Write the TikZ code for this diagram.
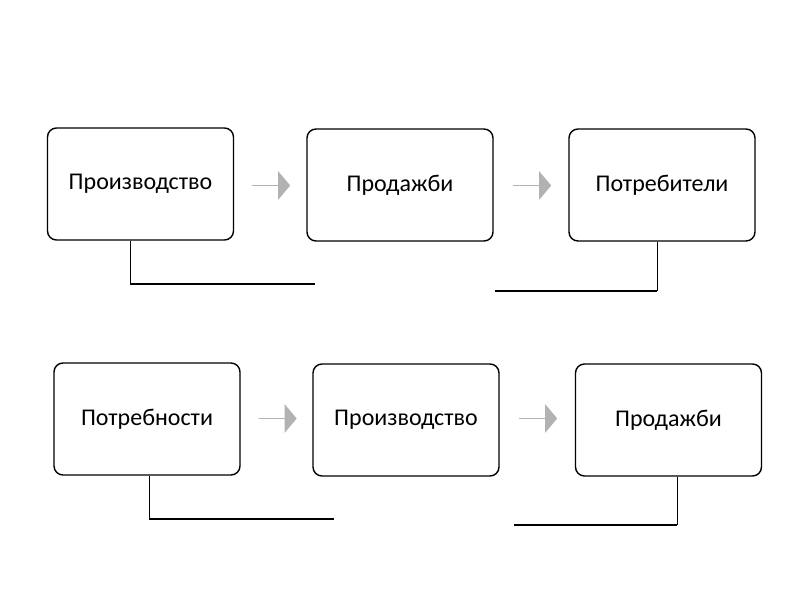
\documentclass[tikz,border=0pt]{standalone}
\usepackage{fontspec}
\setmainfont{Carlito}
\usetikzlibrary{shapes.arrows}
\begin{document}
\begin{tikzpicture}[x=1pt,y=-1pt]
    \tikzstyle{stage}=[draw=black,line width=1.4pt,rounded corners=9pt,minimum width=186pt,minimum height=112pt,font=\fontsize{24}{28}\selectfont]
    \tikzstyle{flow}=[single arrow,fill=black!30,minimum height=38pt,minimum width=29pt,single arrow head extend=6.5pt,shape border rotate=0,single arrow tip angle=100,inner sep=0pt]
    \tikzstyle{link}=[draw=black,line width=1pt]
    \tikzstyle{base}=[draw=black,line width=2.4pt]

    \useasboundingbox (0,0) rectangle (792,594);

    \node[stage] (prod1) at (140.5,184) {Производство};
    \node[stage] (sale1) at (400,185) {Продажби};
    \node[stage] (cons1) at (662,185) {Потребители};
    \node[stage] (need2) at (147,419) {Потребности};
    \node[stage] (prod2) at (406,420) {Производство};
    \node[stage] (sale2) at (668.5,420) {Продажби};

    \node[flow] (a1) at (271,185.5) {};
    \node[flow] (a2) at (532,185.5) {};
    \node[flow] (a3) at (277.5,418.5) {};
    \node[flow] (a4) at (538,418.5) {};

    \coordinate (c1) at (130,284);
    \coordinate (e1) at (315,284);
    \coordinate (c2) at (657,291);
    \coordinate (e2) at (495,291);
    \coordinate (c3) at (149,519);
    \coordinate (e3) at (334,519);
    \coordinate (c4) at (677,525);
    \coordinate (e4) at (514,525);

    \draw [link] (prod1.south -| c1) -- (c1);
    \draw [base] (c1) -- (e1);
    \draw [link] (cons1.south -| c2) -- (c2);
    \draw [base] (c2) -- (e2);
    \draw [link] (need2.south -| c3) -- (c3);
    \draw [base] (c3) -- (e3);
    \draw [link] (sale2.south -| c4) -- (c4);
    \draw [base] (c4) -- (e4);
\end{tikzpicture}
\end{document}
